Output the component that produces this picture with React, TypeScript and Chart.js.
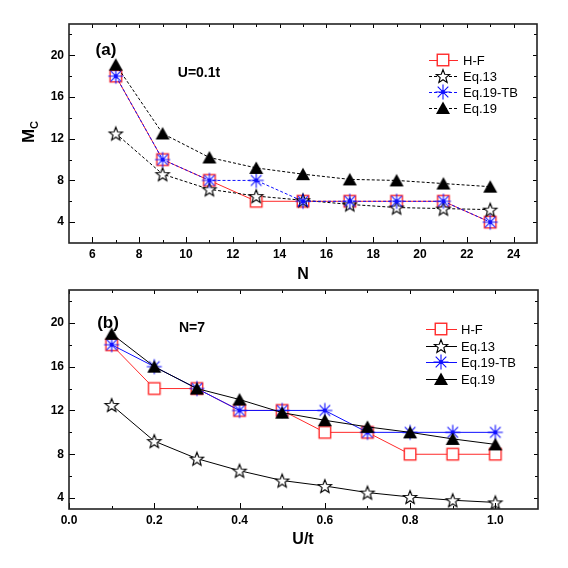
import React, { useEffect, useRef } from "react";
import { Chart, registerables } from "chart.js";
Chart.register(...registerables);

// ---------- Data ----------
const nValues = [7, 9, 11, 13, 15, 17, 19, 21, 23];
const hfA = [18, 10, 8, 6, 6, 6, 6, 6, 4];
const eq13A = [12.5, 8.6, 7.15, 6.5, 6.1, 5.7, 5.4, 5.3, 5.2];
const eq19tbA = [18, 10, 8, 8, 6, 6, 6, 6, 4];
const eq19A = [19.1, 12.5, 10.2, 9.2, 8.6, 8.1, 8.0, 7.7, 7.4];

const uValues = [0.1, 0.2, 0.3, 0.4, 0.5, 0.6, 0.7, 0.8, 0.9, 1.0];
const hfB = [18, 14, 14, 12, 12, 10, 10, 8, 8, 8];
const eq13B = [12.5, 9.2, 7.6, 6.5, 5.6, 5.1, 4.5, 4.1, 3.8, 3.6];
const eq19tbB = [18, 16, 14, 12, 12, 12, 10, 10, 10, 10];
const eq19B = [19.0, 16.0, 14.0, 13.0, 11.8, 11.1, 10.5, 10.0, 9.4, 8.9];

const seriesNames = ["H-F", "Eq.13", "Eq.19-TB", "Eq.19"];

const xTicksA = [6, 8, 10, 12, 14, 16, 18, 20, 22, 24];
const xMinorA = [7, 9, 11, 13, 15, 17, 19, 21, 23];
const xTicksB = [0.0, 0.2, 0.4, 0.6, 0.8, 1.0];
const xMinorB = [0.1, 0.3, 0.5, 0.7, 0.9];
const yTicks = [4, 8, 12, 16, 20];
const yMinor = [6, 10, 14, 18, 22];

const FONT = "'Liberation Sans', Arial, Helvetica, sans-serif";

// ---------- Markers ----------
function makeMarker(kind: string): HTMLCanvasElement {
  const S = 18;
  const c = document.createElement("canvas");
  c.width = S;
  c.height = S;
  const g = c.getContext("2d")!;
  const m = S / 2;
  if (kind === "square") {
    g.fillStyle = "#ffffff";
    g.strokeStyle = "#ff2a2a";
    g.lineWidth = 1.4;
    g.fillRect(m - 5.75, m - 5.75, 11.5, 11.5);
    g.strokeRect(m - 5.75, m - 5.75, 11.5, 11.5);
  } else if (kind === "star") {
    const ro = 7;
    const ri = 3;
    g.beginPath();
    for (let i = 0; i < 10; i++) {
      const r = i % 2 === 0 ? ro : ri;
      const a = -Math.PI / 2 + (i * Math.PI) / 5;
      const px = m + r * Math.cos(a);
      const py = m + 0.7 + r * Math.sin(a);
      if (i === 0) g.moveTo(px, py);
      else g.lineTo(px, py);
    }
    g.closePath();
    g.fillStyle = "#ffffff";
    g.fill();
    g.strokeStyle = "#000000";
    g.lineWidth = 1.15;
    g.stroke();
  } else if (kind === "asterisk") {
    g.strokeStyle = "#0f0fff";
    g.lineWidth = 1.1;
    const r = 7.5;
    g.beginPath();
    for (let i = 0; i < 4; i++) {
      const a = (i * Math.PI) / 4;
      g.moveTo(m - r * Math.cos(a), m - r * Math.sin(a));
      g.lineTo(m + r * Math.cos(a), m + r * Math.sin(a));
    }
    g.stroke();
    g.fillStyle = "#0f0fff";
    g.beginPath();
    g.arc(m, m, 1.9, 0, Math.PI * 2);
    g.fill();
  } else if (kind === "triangle") {
    g.fillStyle = "#000000";
    g.beginPath();
    g.moveTo(m, m - 6.4);
    g.lineTo(m + 7, m + 6.1);
    g.lineTo(m - 7, m + 6.1);
    g.closePath();
    g.fill();
  }
  return c;
}

type PanelSpec = {
  height: number;
  top: number;
  xMin: number;
  xMax: number;
  yMin: number;
  yMax: number;
  xTicks: number[];
  xMinor: number[];
  xFmt: (v: number) => string;
  xs: number[];
  series: number[][];
  dashes: number[][];
  padRight: number;
  xAxisHeight: number;
  label: { text: string; x: number; y: number };
  note: { text: string; x: number; y: number };
  xTitle: { text: string; x: number; y: number };
  yTitle: boolean;
  legend: { lineX0: number; lineX1: number; markerX: number; textX: number; rows: number[] };
};

const colors = ["#ff2a2a", "#000000", "#0f0fff", "#000000"];
const markerKinds = ["square", "star", "asterisk", "triangle"];

function Panel({ spec }: { spec: PanelSpec }) {
  const ref = useRef<HTMLCanvasElement | null>(null);
  useEffect(() => {
    if (!ref.current) return;
    const markers = markerKinds.map((k) => makeMarker(k));
    const datasets = spec.series.map((vals, i) => ({
      label: seriesNames[i],
      data: spec.xs.map((x, j) => ({ x, y: vals[j] })),
      borderColor: colors[i],
      borderWidth: 1,
      borderDash: spec.dashes[i],
      pointStyle: markers[i] as any,
      pointRadius: 7,
      pointHoverRadius: 7,
      backgroundColor: colors[i],
      tension: 0,
      fill: false,
      order: 4 - i,
    }));

    const tickFont = { family: FONT, size: 12, weight: "bold" as const };

    const decor = {
      id: "decor",
      afterDraw(chart: any) {
        const { ctx, chartArea: a, scales } = chart;
        const xs = scales.x;
        const ys = scales.y;
        ctx.save();
        ctx.strokeStyle = "#000";
        ctx.lineWidth = 1;
        const vTick = (v: number, len: number, topLen: number) => {
          const px = Math.round(xs.getPixelForValue(v)) + 0.5;
          ctx.beginPath();
          ctx.moveTo(px, a.bottom);
          ctx.lineTo(px, a.bottom - len);
          ctx.moveTo(px, a.top);
          ctx.lineTo(px, a.top + topLen);
          ctx.stroke();
        };
        const hTick = (v: number, len: number, rLen: number) => {
          const py = Math.round(ys.getPixelForValue(v)) + 0.5;
          ctx.beginPath();
          ctx.moveTo(a.left, py);
          ctx.lineTo(a.left + len, py);
          ctx.moveTo(a.right, py);
          ctx.lineTo(a.right - rLen, py);
          ctx.stroke();
        };
        spec.xTicks.forEach((v) => vTick(v, 6, 4));
        spec.xMinor.forEach((v) => vTick(v, 3, 3));
        yTicks.forEach((v) => hTick(v, 6, 4));
        yMinor.filter((v) => v < spec.yMax && v > spec.yMin).forEach((v) => hTick(v, 3, 3));

        ctx.strokeStyle = "#222";
        ctx.lineWidth = 1.6;
        ctx.strokeRect(a.left, a.top, a.right - a.left, a.bottom - a.top);

        // texts
        ctx.fillStyle = "#000";
        ctx.textAlign = "center";
        ctx.textBaseline = "middle";
        ctx.font = `bold 17px ${FONT}`;
        ctx.fillText(spec.label.text, spec.label.x, spec.label.y);
        ctx.font = `bold 14px ${FONT}`;
        ctx.fillText(spec.note.text, spec.note.x, spec.note.y);
        ctx.font = `bold 16px ${FONT}`;
        ctx.fillText(spec.xTitle.text, spec.xTitle.x, spec.xTitle.y);

        if (spec.yTitle) {
          ctx.save();
          ctx.translate(28, 132);
          ctx.rotate(-Math.PI / 2);
          ctx.textAlign = "left";
          ctx.textBaseline = "alphabetic";
          ctx.font = `bold 17px ${FONT}`;
          const mw = ctx.measureText("M").width;
          ctx.font = `bold 11px ${FONT}`;
          const cw = ctx.measureText("C").width;
          const start = -(mw + cw) / 2;
          ctx.font = `bold 17px ${FONT}`;
          ctx.fillText("M", start, 6);
          ctx.font = `bold 11px ${FONT}`;
          ctx.fillText("C", start + mw, 10);
          ctx.restore();
        }

        // legend
        const lg = spec.legend;
        ctx.font = `13px ${FONT}`;
        ctx.textAlign = "left";
        ctx.textBaseline = "middle";
        seriesNames.forEach((name, i) => {
          const y = lg.rows[i];
          ctx.save();
          ctx.strokeStyle = colors[i];
          ctx.lineWidth = 1;
          ctx.setLineDash(spec.dashes[i]);
          ctx.beginPath();
          ctx.moveTo(lg.lineX0, Math.round(y) + 0.5);
          ctx.lineTo(lg.lineX1, Math.round(y) + 0.5);
          ctx.stroke();
          ctx.restore();
          const mk = markers[i];
          ctx.drawImage(mk, lg.markerX - mk.width / 2, y - mk.height / 2);
          ctx.fillStyle = "#000";
          ctx.fillText(name, lg.textX, y + 1);
        });
        ctx.restore();
      },
    };

    const chart = new Chart(ref.current, {
      type: "line",
      data: { datasets: datasets as any },
      options: {
        animation: false,
        responsive: false,
        maintainAspectRatio: false,
        events: [],
        layout: { padding: { top: spec.top, right: spec.padRight, left: 0, bottom: 0 } },
        plugins: { legend: { display: false }, tooltip: { enabled: false }, title: { display: false } },
        scales: {
          x: {
            type: "linear",
            min: spec.xMin,
            max: spec.xMax,
            grid: { display: false, drawTicks: false },
            border: { display: false },
            afterBuildTicks: (s: any) => {
              s.ticks = spec.xTicks.map((v) => ({ value: v }));
            },
            afterFit: (s: any) => {
              s.height = spec.xAxisHeight;
            },
            ticks: {
              font: tickFont,
              color: "#000",
              padding: 4,
              maxRotation: 0,
              autoSkip: false,
              callback: (v: any) => spec.xFmt(Number(v)),
            },
          },
          y: {
            type: "linear",
            min: spec.yMin,
            max: spec.yMax,
            grid: { display: false, drawTicks: false },
            border: { display: false },
            afterBuildTicks: (s: any) => {
              s.ticks = yTicks.map((v) => ({ value: v }));
            },
            afterFit: (s: any) => {
              s.width = 69;
            },
            ticks: {
              font: tickFont,
              color: "#000",
              padding: 5,
              autoSkip: false,
              callback: (v: any) => String(v),
            },
          },
        },
      },
      plugins: [decor],
    });
    return () => chart.destroy();
  }, [spec]);
  return <canvas ref={ref} width={568} height={spec.height} style={{ display: "block", width: 568, height: spec.height }} />;
}

const specA: PanelSpec = {
  height: 290,
  top: 24,
  xMin: 5,
  xMax: 25,
  yMin: 2,
  yMax: 23,
  xTicks: xTicksA,
  xMinor: xMinorA,
  xFmt: (v) => String(v),
  xs: nValues,
  series: [hfA, eq13A, eq19tbA, eq19A],
  dashes: [[], [3, 2], [3, 2], [3, 2]],
  padRight: 31,
  xAxisHeight: 47,
  label: { text: "(a)", x: 106, y: 50 },
  note: { text: "U=0.1t", x: 199, y: 73 },
  xTitle: { text: "N", x: 303, y: 275 },
  yTitle: true,
  legend: { lineX0: 429, lineX1: 458, markerX: 443, textX: 463, rows: [60, 76, 92, 108] },
};

const specB: PanelSpec = {
  height: 302,
  top: 24,
  xMin: 0,
  xMax: 1.1,
  yMin: 3,
  yMax: 23,
  xTicks: xTicksB,
  xMinor: xMinorB,
  xFmt: (v) => v.toFixed(1),
  xs: uValues,
  series: [hfB, eq13B, eq19tbB, eq19B],
  dashes: [[], [], [], []],
  padRight: 30,
  xAxisHeight: 59,
  label: { text: "(b)", x: 108, y: 57 },
  note: { text: "N=7", x: 192, y: 62 },
  xTitle: { text: "U/t", x: 303, y: 274 },
  yTitle: false,
  legend: { lineX0: 426, lineX1: 457, markerX: 441, textX: 461, rows: [63, 80, 96, 113] },
};

export default function App() {
  return (
    <div style={{ position: "fixed", left: 0, top: 0, width: 568, height: 568, background: "#fff" }}>
      <div style={{ position: "absolute", left: 0, top: 0 }}>
        <Panel spec={specA} />
      </div>
      <div style={{ position: "absolute", left: 0, top: 266 }}>
        <Panel spec={specB} />
      </div>
    </div>
  );
}
